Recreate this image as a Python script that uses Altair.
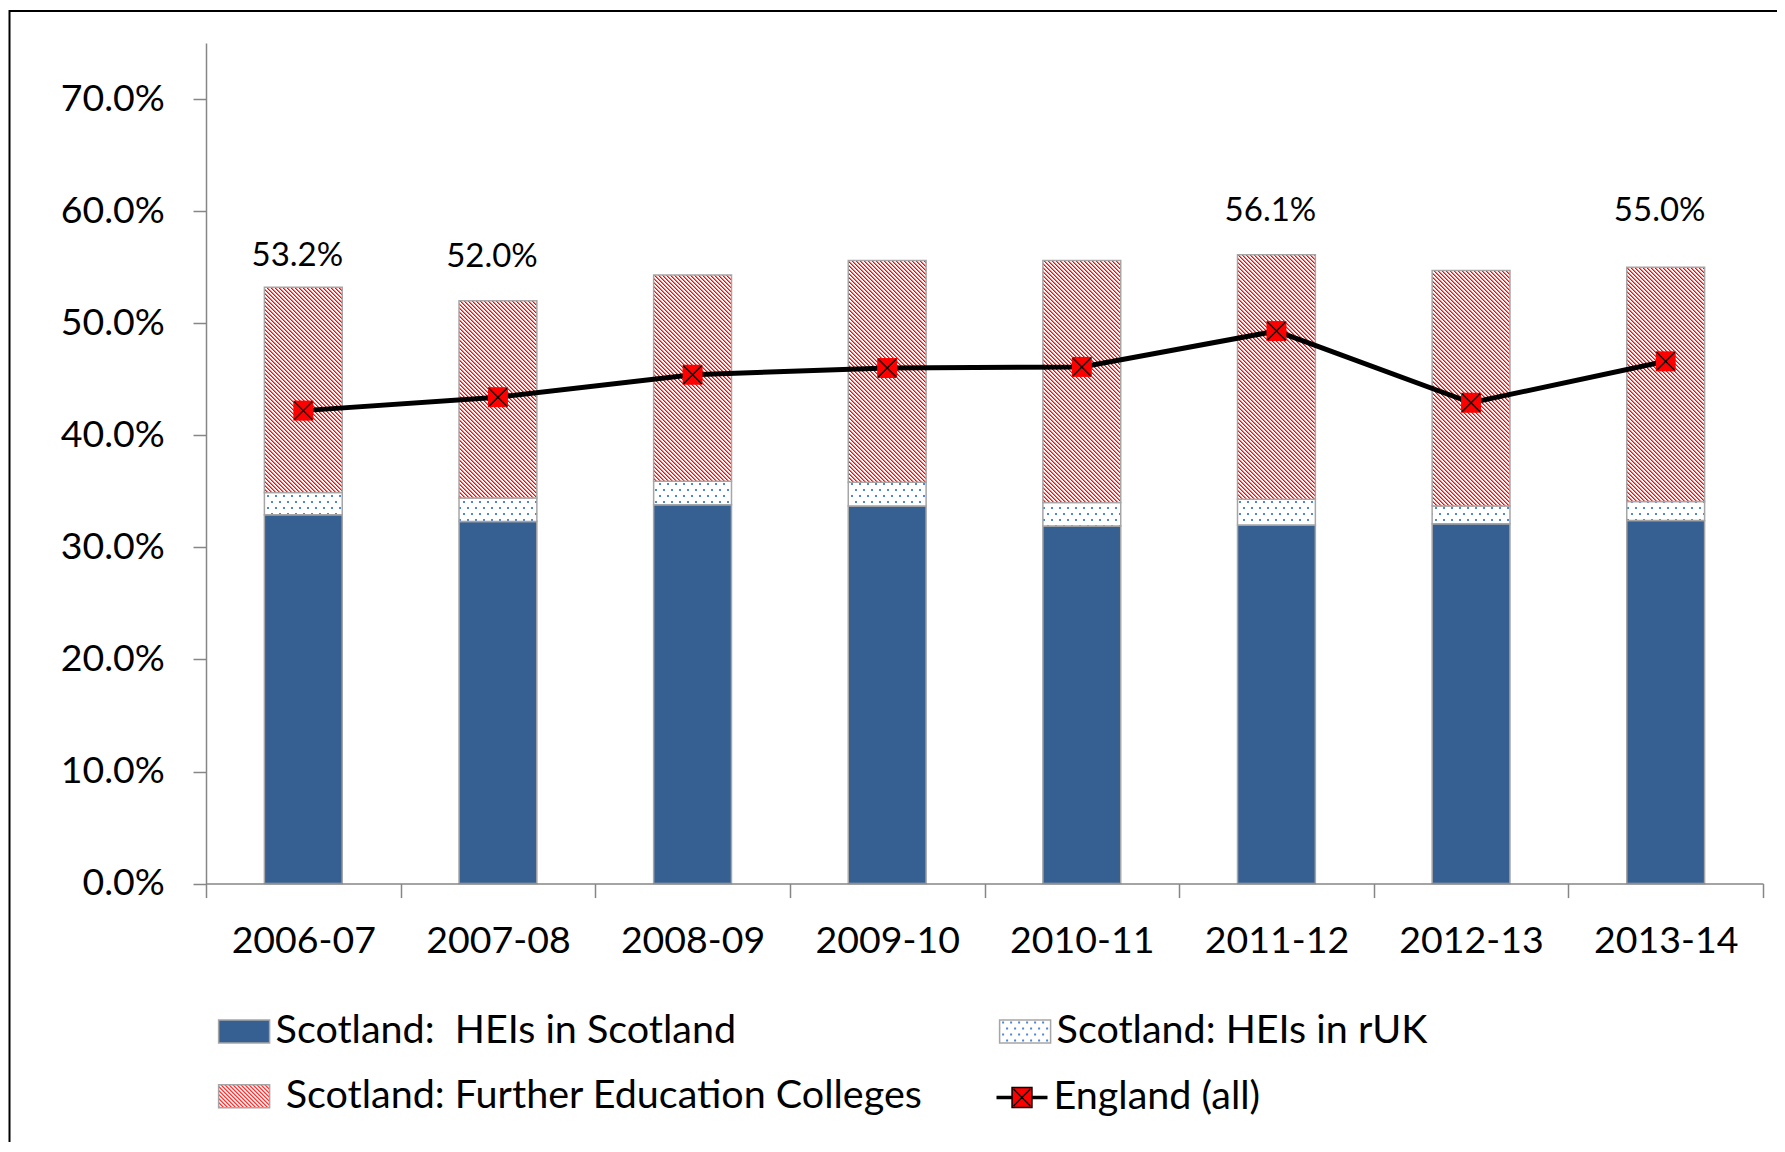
import altair as alt
import pandas as pd
from altair.utils import html as alt_html

# ---------------- data ----------------
years = ["2006-07", "2007-08", "2008-09", "2009-10", "2010-11", "2011-12", "2012-13", "2013-14"]

S1 = "Scotland: HEIs in Scotland"
S2 = "Scotland: HEIs in rUK"
S3 = "Scotland: Further Education Colleges"
S4 = "England (all)"
bar_series = [S1, S2, S3]
line_series = [S4]

hei_scotland = [0.329, 0.323, 0.338, 0.337, 0.319, 0.320, 0.321, 0.324]
hei_ruk = [0.020, 0.021, 0.021, 0.021, 0.021, 0.023, 0.016, 0.017]
fe_colleges = [0.183, 0.176, 0.184, 0.198, 0.216, 0.218, 0.210, 0.209]
england_all = [0.422, 0.434, 0.454, 0.460, 0.461, 0.493, 0.429, 0.466]

# bar totals that carry a data label, and where each label sits (value units)
label_years = ["2006-07", "2007-08", "2011-12", "2013-14"]
label_totals = [0.532, 0.520, 0.561, 0.550]
label_anchor = [0.560, 0.559, 0.600, 0.600]

y_ticks = [0.0, 0.1, 0.2, 0.3, 0.4, 0.5, 0.6, 0.7]

bar_colors = ["#366092", "url(#ruk_dots)", "url(#fe_hatch)"]
line_colors = ["#ff0000"]

# ---------------- tables ----------------
rows = []
for i, yr in enumerate(years):
    for k, (name, vals) in enumerate([(S1, hei_scotland), (S2, hei_ruk), (S3, fe_colleges)]):
        rows.append({"year": yr, "series": name, "value": vals[i], "stack_order": k})
bars_df = pd.DataFrame(rows)
eng_df = pd.DataFrame({"year": years, "series": [S4] * len(years), "england": england_all})
lab_df = pd.DataFrame({"year": label_years, "total": label_totals, "anchor": label_anchor})
frame_df = pd.DataFrame({"frame": [0]})

# ---------------- styling ----------------
W, H = 1557, 840.6
FONT = "Lato"
AXIS_GRAY = "#868686"
BAR_EDGE = "#a6a6a6"

RECT_PATH = "M-1,-0.45H1V0.45H-1Z"
ENG_PATH = ("M-1,-0.04H-0.39M-1,0H-0.39M-1,0.04H-0.39"
            "M0.39,-0.04H1M0.39,0H1M0.39,0.04H1"
            "M-0.39,-0.39H0.39V0.39H-0.39Z"
            "M-0.33,-0.33L0.33,0.33M-0.33,0.33L0.33,-0.33")
X_PATH = "M-0.9,-0.9L0.9,0.9M-0.9,0.9L0.9,-0.9"

x_scale = alt.Scale(paddingInner=0, paddingOuter=0)
y_scale = alt.Scale(domain=[0, 0.75], nice=False, zero=True)
bar_color_scale = alt.Scale(domain=bar_series, range=bar_colors)
line_color_scale = alt.Scale(domain=line_series, range=line_colors)

x_axis = alt.Axis(labelAngle=0, tickBand="extent", tickSize=14, tickWidth=1.5,
                  tickColor=AXIS_GRAY, domainColor=AXIS_GRAY, domainWidth=1.5,
                  labelPadding=25, labelFont=FONT, labelFontSize=37.5, labelColor="black",
                  labelOverlap=False, grid=False, title=None, zindex=1)
y_axis = alt.Axis(values=y_ticks, format=".1%", tickSize=13, tickWidth=1.5,
                  tickColor=AXIS_GRAY, domainColor=AXIS_GRAY, domainWidth=1.5,
                  labelPadding=28.7, labelFont=FONT, labelFontSize=37.5, labelColor="black",
                  labelFlush=False, labelOverlap=False, grid=False, title=None, zindex=1)


def x_enc():
    return alt.X("year:N", sort=years, scale=x_scale, axis=x_axis, title=None)


def y_enc(field, **kw):
    return alt.Y(field, scale=y_scale, axis=y_axis, title=None, **kw)


label_expr = ("datum.label == '" + S1 + "' ? 'Scotland:\u00a0 HEIs in Scotland' : "
              "(datum.label == '" + S3 + "' ? '\u200b\u00a0" + S3 + "' : datum.label)")

LEG_FONT = 39.5
bars_legend = alt.Legend(
    title=None, orient="none", legendX=11.6, legendY=962,
    direction="horizontal", columns=2, columnPadding=73, rowPadding=18.8,
    padding=0, offset=0, symbolType=RECT_PATH, symbolSize=2601,
    symbolStrokeColor=BAR_EDGE, symbolStrokeWidth=1.5, symbolOpacity=1,
    labelOffset=5, labelFont=FONT, labelFontSize=LEG_FONT, labelColor="black",
    labelLimit=1000, labelExpr=label_expr,
)
eng_legend = alt.Legend(
    title=None, orient="none", legendX=789.5, legendY=1028,
    padding=0, offset=0, symbolType=ENG_PATH, symbolSize=2601,
    symbolStrokeColor="black", symbolStrokeWidth=1.5, symbolOpacity=1,
    labelOffset=5, labelFont=FONT, labelFontSize=LEG_FONT, labelColor="black",
    labelLimit=1000,
)

frame = alt.Chart(frame_df).mark_rect(fill="transparent", stroke="black", strokeWidth=2).encode(
    x=alt.value(-196.5), x2=alt.value(W + 300), y=alt.value(-32), y2=alt.value(H + 600)
)

bars = alt.Chart(bars_df).mark_bar(
    width=alt.RelativeBandSize(0.4), stroke=BAR_EDGE, strokeWidth=1.5, opacity=1
).encode(
    x=x_enc(),
    y=y_enc("value:Q", stack="zero"),
    color=alt.Color("series:N", scale=bar_color_scale, legend=bars_legend),
    order=alt.Order("stack_order:Q", sort="ascending"),
)

line = alt.Chart(eng_df).mark_line(color="black", strokeWidth=5).encode(
    x=x_enc(), y=y_enc("england:Q")
)

markers = alt.Chart(eng_df).mark_point(
    shape="square", size=400, filled=True, opacity=1
).encode(
    x=x_enc(), y=y_enc("england:Q"),
    color=alt.Color("series:N", scale=line_color_scale, legend=eng_legend),
)

crosses = alt.Chart(eng_df).mark_point(
    shape=X_PATH, size=400, filled=False, color="black", strokeWidth=1.4, opacity=1
).encode(
    x=x_enc(), y=y_enc("england:Q")
)

labels = alt.Chart(lab_df).mark_text(
    font=FONT, fontSize=33, baseline="middle", dx=-6, color="black"
).encode(
    x=x_enc(), y=y_enc("anchor:Q"),
    text=alt.Text("total:Q", format=".1%"),
)

chart = alt.layer(frame, bars, line, markers, crosses, labels).resolve_scale(
    color="independent"
).properties(
    width=W, height=H,
    autosize=alt.AutoSizeParams(type="none"),
    padding={"left": 198, "top": 35, "right": 14, "bottom": 258},
).configure(font=FONT).configure_view(strokeWidth=0)

# SVG fill patterns (hatching / dots) referenced by the colour range
DEFS = (
    '<svg width="0" height="0" style="position:absolute;left:0;top:0;width:0;height:0" aria-hidden="true">'
    '<defs>'
    '<pattern id="fe_hatch" patternUnits="userSpaceOnUse" x="0" y="0" width="4" height="4">'
    '<rect x="0" y="0" width="4" height="4" fill="#ffffff"/>'
    '<path d="M0,0h1v1h-1zM1,1h1v1h-1zM2,2h1v1h-1zM3,3h1v1h-1z" fill="#ff0000"/>'
    '<path d="M1,0h1v1h-1zM2,1h1v1h-1zM3,2h1v1h-1zM0,3h1v1h-1z" fill="#ff0000" fill-opacity="0.55"/>'
    '</pattern>'
    '<pattern id="ruk_dots" patternUnits="userSpaceOnUse" x="0" y="0" width="8" height="12">'
    '<rect x="0" y="0" width="8" height="12" fill="#ffffff"/>'
    '<rect x="1" y="2" width="2" height="2" fill="#4f86d6"/>'
    '<rect x="5" y="8" width="2" height="2" fill="#4f86d6"/>'
    '</pattern>'
    '</defs></svg>'
)


class PatternTemplate:
    def render(self, **kwargs):
        page = alt_html.TEMPLATES["standard"].render(**kwargs)
        if "<body>" in page:
            return page.replace("<body>", "<body>\n" + DEFS, 1)
        return DEFS + page


chart.save("out.html", embed_options={"renderer": "svg", "actions": False}, template=PatternTemplate())
